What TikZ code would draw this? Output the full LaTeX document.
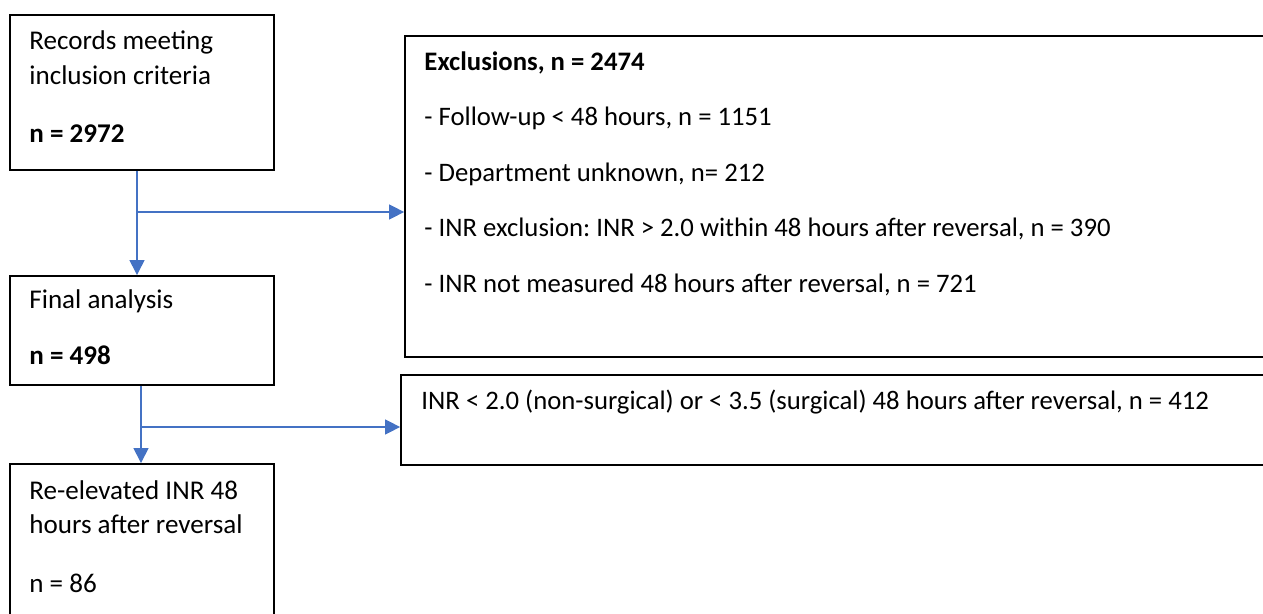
\documentclass[tikz,border=0pt]{standalone}
\usepackage{fontspec}
\setmainfont{Carlito}
\usetikzlibrary{arrows.meta}
\definecolor{flowblue}{HTML}{4472C4}
\frenchspacing

\begin{document}
\begin{tikzpicture}[
    x=0.02cm, y=-0.02cm, % one unit = one pixel of the flow chart, y runs down
    box/.style={draw=black, line width=1.1pt, rectangle, inner sep=0pt},
    flow/.style={draw=flowblue, line width=0.8pt, -{Triangle[length=0.3cm, width=0.3cm]}},
    bigtext/.style={anchor=base west, align=left, inner sep=0pt, font=\fontsize{15.4}{19.4}\selectfont},
    smalltext/.style={anchor=base west, align=left, inner sep=0pt, font=\fontsize{15.2}{31.6}\selectfont}
]

    % Page frame (the right boxes run past the edge)
    \clip (0,0) rectangle (1263,614);

    % --- LEFT COLUMN ---
    % (base anchor of a multi-line node = baseline of its last line)
    \node[box, minimum width=5.28cm, minimum height=3.1cm] (records) at (142,92.5) {};
    \node[bigtext] (recordstext) at ([shift={(20,128)}]records.north west)
        {Records meeting\\inclusion criteria\\[13.6pt]\textbf{n = 2972}};

    \node[box, minimum width=5.28cm, minimum height=2.18cm] (final) at (142,330.5) {};
    \node[bigtext] (finaltext) at ([shift={(20,89)}]final.north west)
        {Final analysis\\[12pt]\textbf{n = 498}};

    \node[box, minimum width=5.28cm, minimum height=4.72cm] (reelevated) at (142,582) {};
    \node[bigtext] (reelevatedtext) at ([shift={(20,129)}]reelevated.north west)
        {Re-elevated INR 48\\hours after reversal\\[14pt]n = 86};

    % --- RIGHT COLUMN ---
    \node[box, minimum width=18.3cm, minimum height=6.43cm] (excl) at (862.5,196.3) {};
    \node[smalltext] (excltext) at ([shift={(20,257.5)}]excl.north west)
        {\textbf{Exclusions, n = 2474}\\
         - Follow-up < 48 hours, n = 1151\\
         - Department unknown, n= 212\\
         - INR exclusion: INR > 2.0 within 48 hours after reversal, n = 390\\
         - INR not measured 48 hours after reversal, n = 721};

    \node[box, minimum width=18.38cm, minimum height=1.8cm] (inr) at (860.5,420) {};
    \node[smalltext] (inrtext) at ([shift={(21,35)}]inr.north west)
        {INR < 2.0 (non-surgical) or < 3.5 (surgical) 48 hours after reversal, n = 412};

    % --- CONNECTORS ---
    \coordinate (split1) at (137,212);
    \coordinate (split2) at (141,427);

    \draw[flow] (records.south -| split1) -- (final.north -| split1);
    \draw[flow] (split1) -- (split1 -| excl.west);

    \draw[flow] (final.south -| split2) -- (reelevated.north -| split2);
    \draw[flow] (split2) -- (split2 -| inr.west);

\end{tikzpicture}
\end{document}
